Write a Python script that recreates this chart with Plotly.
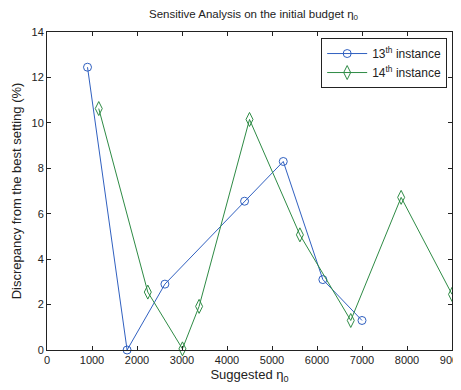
import plotly.graph_objects as go

x13 = [900, 1780, 2620, 4390, 5250, 6130, 7000]
y13 = [12.45, 0.0, 2.9, 6.55, 8.3, 3.1, 1.3]
x14 = [1150, 2240, 3010, 3380, 4500, 5620, 6750, 7870, 9000]
y14 = [10.63, 2.55, 0.05, 1.92, 10.15, 5.07, 1.3, 6.72, 2.45]

blue = "#3060C0"
green = "#2E8B45"
font = dict(family="Liberation Sans, Arial, sans-serif", size=11, color="#222")

fig = go.Figure()
fig.add_trace(go.Scatter(x=x13, y=y13, mode="lines+markers", name="13<sup>th</sup> instance",
                         legendgroup="a", cliponaxis=False,
                         line=dict(color=blue, width=1),
                         marker=dict(symbol="circle-open", size=8, color=blue, line=dict(width=1))))
fig.add_trace(go.Scatter(x=x14, y=y14, mode="lines+markers", name="14<sup>th</sup> instance",
                         legendgroup="b", cliponaxis=False,
                         line=dict(color=green, width=1),
                         marker=dict(symbol="diamond-tall-open", size=10, color=green, line=dict(width=1))))

axis_common = dict(showgrid=False, zeroline=False, showline=True, linecolor="#222", linewidth=1,
                   mirror="ticks", ticks="inside", ticklen=4, tickcolor="#222",
                   tickfont=font, automargin=False, ticklabeloverflow="allow")
# page body has an 8px default margin, so the figure is sized/offset to compensate
fig.update_layout(
    width=453, height=382,
    margin=dict(l=39, r=9, t=24, b=40),
    paper_bgcolor="white", plot_bgcolor="white",
    font=font,
    title=dict(text="Sensitive Analysis on the initial budget η<sub>0</sub>", x=0.542, xanchor="center",
               y=0.996, yanchor="top", font=dict(size=11.5, family=font["family"], color="#222")),
    xaxis=dict(range=[0, 9000], tickvals=list(range(0, 9001, 1000)),
               title=dict(text="Suggested η<sub>0</sub>", standoff=4), **axis_common),
    yaxis=dict(range=[0, 14], tickvals=list(range(0, 15, 2)),
               title=dict(text="Discrepancy from the best setting (%)", standoff=6), **axis_common),
    legend=dict(x=0.677, y=0.981, xanchor="left", yanchor="top", bgcolor="white",
                bordercolor="#222", borderwidth=1, font=dict(size=12, family=font["family"], color="#222"),
                itemwidth=40, tracegroupgap=0),
    showlegend=True,
)
fig.write_html("out.html")
